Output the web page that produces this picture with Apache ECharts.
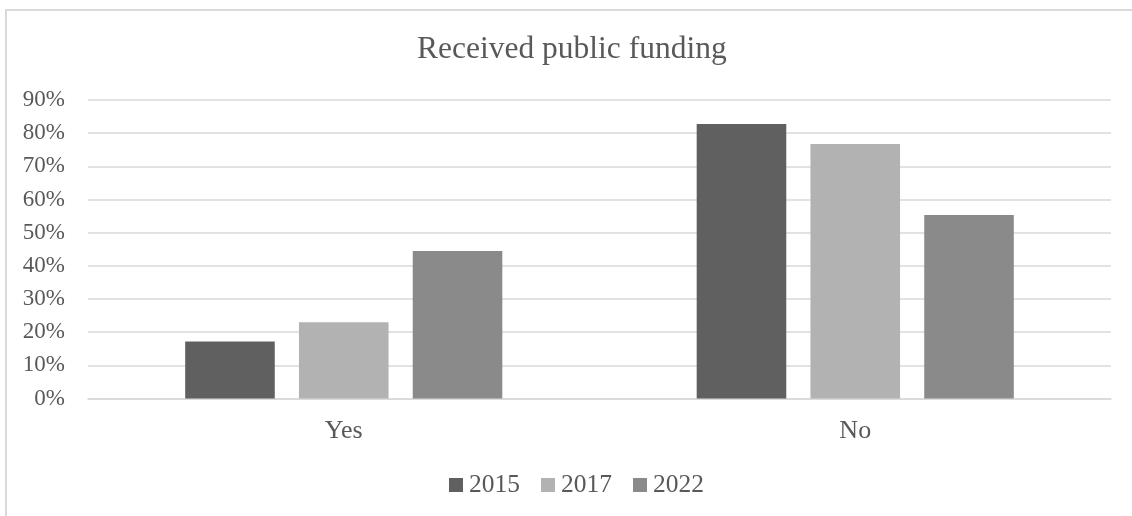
<!DOCTYPE html>
<html>
<head>
<meta charset="utf-8">
<style>
  html, body { margin: 0; padding: 0; background: #ffffff; }
  #chart { width: 1132px; height: 516px; }
</style>
<script src="https://cdn.jsdelivr.net/npm/echarts@6/dist/echarts.min.js"></script>
</head>
<body>
<div id="chart"></div>
<script>
// Share of respondents that received public funding, by survey year (%)
const categories = ['Yes', 'No'];
const years = ['2015', '2017', '2022'];
const values2015 = [17.2, 82.8];
const values2017 = [23.0, 76.7];
const values2022 = [44.5, 55.3];
const yearColors = ['#606060', '#b2b2b2', '#8a8a8a'];

const FONT = '"Liberation Serif", "Times New Roman", serif';
const TEXT = '#595959';
const GRID_LINE = '#d9d9d9';

const seriesValues = [values2015, values2017, values2022];

const chart = echarts.init(document.getElementById('chart'), null, { renderer: 'canvas' });

chart.setOption({
  backgroundColor: '#ffffff',
  animation: false,
  title: {
    text: 'Received public funding',
    left: 417,
    top: 34,
    padding: 0,
    textStyle: { fontFamily: FONT, fontSize: 31.5, fontWeight: 'normal', color: TEXT }
  },
  legend: {
    left: 449,
    top: 472,
    padding: 0,
    itemWidth: 14,
    itemHeight: 14,
    itemGap: 21,
    icon: 'rect',
    textStyle: { fontFamily: FONT, fontSize: 25.5, color: TEXT, padding: [0, 0, 0, 1] },
    data: years
  },
  grid: { left: 88, right: 21, top: 100, bottom: 117.5, containLabel: false },
  xAxis: {
    type: 'category',
    data: categories,
    axisLine: { show: true, lineStyle: { color: GRID_LINE, width: 1.5 } },
    axisTick: { show: false },
    axisLabel: { fontFamily: FONT, fontSize: 26, color: TEXT, margin: 20 }
  },
  yAxis: {
    type: 'value',
    min: 0,
    max: 90,
    interval: 10,
    axisLine: { show: false },
    axisTick: { show: false },
    splitLine: { lineStyle: { color: GRID_LINE, width: 1.5 } },
    axisLabel: { fontFamily: FONT, fontSize: 23, color: TEXT, margin: 23, formatter: '{value}%' }
  },
  series: years.map((y, i) => ({
    name: y,
    type: 'bar',
    data: seriesValues[i],
    barGap: '27%',
    barCategoryGap: '38%',
    itemStyle: { color: yearColors[i] }
  })),
  graphic: [{
    type: 'rect',
    silent: true,
    z: -1,
    shape: { x: 6, y: 10, width: 1200, height: 600 },
    style: { fill: null, stroke: GRID_LINE, lineWidth: 2 }
  }]
});
</script>
</body>
</html>
